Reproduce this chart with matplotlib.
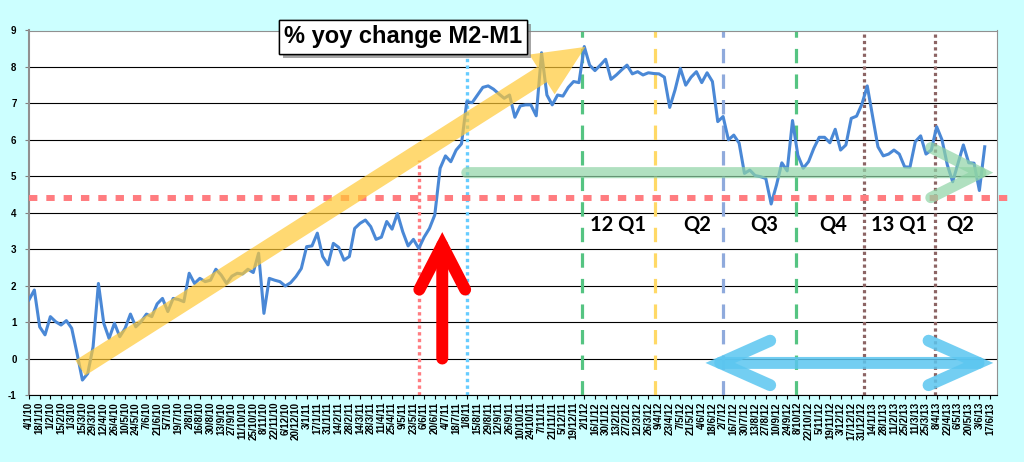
import numpy as np
import pandas as pd
import matplotlib
matplotlib.use("Agg")
import matplotlib.pyplot as plt
from matplotlib.patches import FancyArrowPatch
import matplotlib.patheffects as pe

plt.rcParams['font.family'] = ['Liberation Sans', 'DejaVu Sans']

# weekly % yoy change of M2-M1, first week 4/1/10
start_date = "2010-01-04"
yoy_m2_m1 = [
    1.61, 1.88, 0.87, 0.65, 1.15, 1.01, 0.92, 1.04, 0.83, 0.14,
    -0.59, -0.41, 0.32, 2.06, 0.97, 0.55, 0.97, 0.60, 0.83, 1.22,
    0.87, 1.01, 1.22, 1.15, 1.50, 1.65, 1.29, 1.65, 1.62, 1.56,
    2.34, 2.06, 2.20, 2.11, 2.15, 2.45, 2.29, 2.06, 2.26, 2.34,
    2.32, 2.45, 2.36, 2.89, 1.24, 2.20, 2.15, 2.11, 1.99, 2.08,
    2.25, 2.47, 3.07, 3.09, 3.44, 2.80, 2.57, 3.16, 3.05, 2.70,
    2.80, 3.57, 3.71, 3.80, 3.62, 3.27, 3.33, 3.76, 3.55, 3.98,
    3.48, 3.09, 3.27, 3.02, 3.33, 3.57, 3.94, 5.22, 5.56, 5.40,
    5.72, 5.89, 7.05, 7.02, 7.23, 7.44, 7.48, 7.39, 7.26, 7.14,
    7.23, 6.62, 6.93, 6.96, 6.96, 6.66, 8.39, 7.23, 6.96, 7.23,
    7.20, 7.44, 7.60, 7.57, 8.56, 8.05, 7.90, 8.05, 8.21, 7.66,
    7.78, 7.92, 8.05, 7.81, 7.87, 7.78, 7.84, 7.82, 7.81, 7.72,
    6.89, 7.37, 7.96, 7.50, 7.72, 7.87, 7.57, 7.84, 7.60, 6.50,
    6.64, 6.00, 6.13, 5.91, 5.08, 5.17, 5.02, 4.99, 4.94, 4.24,
    4.76, 5.37, 5.15, 6.53, 5.58, 5.22, 5.40, 5.77, 6.07, 6.07,
    5.92, 6.29, 5.72, 5.86, 6.59, 6.65, 6.98, 7.48, 6.64, 5.81,
    5.56, 5.61, 5.72, 5.61, 5.26, 5.25, 5.95, 6.11, 5.61, 5.72,
    6.36, 6.00, 5.31, 4.85, 5.36, 5.86, 5.37, 5.36, 4.61, 5.81,
]

n_label_weeks = 181      # tick labels run to 17/6/13
threshold = 4.4          # red dotted reference level
plateau = 5.1            # green arrow level

quarter_names = ["12 Q1", "Q2", "Q3", "Q4", "13 Q1", "Q2"]
quarter_label_x = [110.4, 125.1, 137.7, 150.6, 162.9, 174.4]
quarter_bounds = [103.6, 117.2, 130.0, 143.7, 156.4, 169.7]
bound_colors = ['#55C482', '#FFD966', '#8FAADC', '#55C482', '#8C6464', '#8C6464']
bound_styles = ['dash', 'dash', 'dash', 'dash', 'dot', 'dot']

weeks = np.arange(len(yoy_m2_m1))
label_dates = pd.date_range(start_date, periods=n_label_weeks, freq='7D')[::2]
tick_labels = [f"{d.day}/{d.month}/{d.strftime('%y')}" for d in label_dates]
tick_pos = np.arange(0, n_label_weeks, 2)

fig = plt.figure(figsize=(10.24, 4.62), dpi=100, facecolor='#CCFFFF')
ax = fig.add_axes([29 / 1024, 1 - 395 / 462, 968 / 1024, 364.5 / 462])
ax.set_facecolor('white')

for v in range(-1, 10):
    ax.axhline(v, color='black', lw=0.8, zorder=1)

# quarter boundaries
for xb, c, s in zip(quarter_bounds, bound_colors, bound_styles):
    if s == 'dash':
        ax.axvline(xb, color=c, lw=2.3, ls=(0, (4.5, 3.5)), zorder=2)
    else:
        ax.axvline(xb, color=c, lw=2.3, ls=(0, (1, 1)), zorder=2)

ax.axvline(82, color='#66CCFF', lw=2.4, ls=(0, (1, 1)), zorder=2)
ax.plot([73, 73], [-1, 5.45], color='#FF7C80', lw=2.4, ls=(0, (1, 1)), zorder=2)

ax.plot(weeks, yoy_m2_m1, color='#4A88D6', lw=2.2, zorder=3)

ax.plot([0, 183.8], [threshold, threshold], color='#FF7C80', lw=4.3,
        ls=(0, (1.4, 1.5)), zorder=4, clip_on=False)

# decoration arrows
yellow = FancyArrowPatch((9.6, -0.26), (104.2, 8.55),
                         arrowstyle='simple,head_length=37,head_width=34,tail_width=13',
                         mutation_scale=1, color='#FFC936', alpha=0.7, lw=0,
                         shrinkA=0, shrinkB=0, zorder=5)
ax.add_patch(yellow)

green = FancyArrowPatch((82, plateau), (180.6, plateau),
                        arrowstyle='->,head_length=36,head_width=18',
                        mutation_scale=1, color='#8FD4A6', alpha=0.7, lw=8,
                        capstyle='round', joinstyle='miter',
                        shrinkA=0, shrinkB=0, zorder=5)
ax.add_patch(green)

blue = FancyArrowPatch((126.7, -0.12), (180.6, -0.12),
                       arrowstyle='<->,head_length=36,head_width=16',
                       mutation_scale=1, color='#5BC6F0', alpha=0.85, lw=8.6,
                       capstyle='round', joinstyle='miter',
                       shrinkA=0, shrinkB=0, zorder=5)
ax.add_patch(blue)

red = FancyArrowPatch((77.4, 0.0), (77.4, 3.47),
                      arrowstyle='->,head_length=32,head_width=16.5',
                      mutation_scale=1, color='#FF0000', lw=8.6,
                      capstyle='round', joinstyle='miter',
                      shrinkA=0, shrinkB=0, zorder=6)
ax.add_patch(red)

for name, xq in zip(quarter_names, quarter_label_x):
    ax.text(xq, 3.66, name, ha='center', va='center', fontsize=14.5,
            fontweight='bold', family=['Lato', 'DejaVu Sans'], zorder=7)

ax.set_xlim(0, 181.3)
ax.set_ylim(-1, 9)
ax.set_yticks(range(-1, 10))
ax.set_yticklabels([str(v) for v in range(-1, 10)], fontsize=7, fontweight='bold')
ax.set_xticks(tick_pos)
ax.set_xticklabels(tick_labels, rotation=90, fontsize=7, fontweight='bold')
ax.tick_params(axis='x', length=3, width=0.8, pad=2)
ax.tick_params(axis='y', length=3, width=0.8, pad=6, color='#808080')

for side in ['top', 'right', 'left']:
    ax.spines[side].set_color('#909090')
ax.spines['left'].set_linewidth(1.5)
ax.spines['bottom'].set_color('black')

title = fig.text(403 / 1024, 1 - 37 / 462, "% yoy change M2-M1", ha='center', va='center',
                 fontsize=17, fontweight='bold', zorder=10,
                 bbox=dict(boxstyle='square,pad=0.22', fc='white', ec='black', lw=1))
title.get_bbox_patch().set_path_effects([
    pe.withSimplePatchShadow(offset=(3, -3), shadow_rgbFace='#808080', alpha=0.7),
    pe.Normal()])

fig.savefig('out.png', dpi=100, facecolor=fig.get_facecolor())
